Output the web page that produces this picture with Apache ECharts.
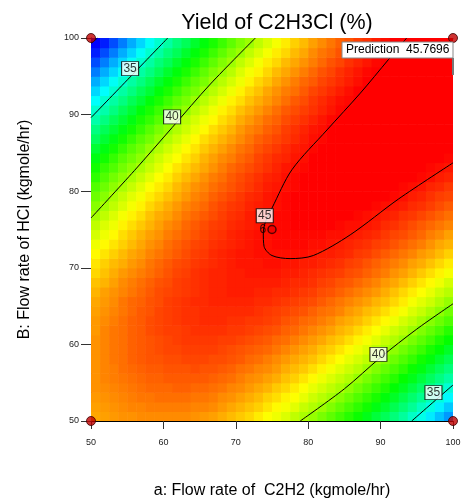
<!DOCTYPE html>
<html>
<head>
<meta charset="utf-8">
<title>Yield of C2H3Cl (%)</title>
<script src="https://cdn.jsdelivr.net/npm/echarts@6/dist/echarts.min.js"></script>
<style>
html, body { margin: 0; padding: 0; background: #fff; }
#container { width: 466px; height: 504px; }
</style>
</head>
<body>
<div id="container"></div>
<script>
// cell centres of the response grid (kgmole/hr)
var aCenters = [50.625, 51.875, 53.125, 54.375, 55.625, 56.875, 58.125, 59.375, 60.625, 61.875,
                63.125, 64.375, 65.625, 66.875, 68.125, 69.375, 70.625, 71.875, 73.125, 74.375,
                75.625, 76.875, 78.125, 79.375, 80.625, 81.875, 83.125, 84.375, 85.625, 86.875,
                88.125, 89.375, 90.625, 91.875, 93.125, 94.375, 95.625, 96.875, 98.125, 99.375];
var bCenters = [50.625, 51.875, 53.125, 54.375, 55.625, 56.875, 58.125, 59.375, 60.625, 61.875,
                63.125, 64.375, 65.625, 66.875, 68.125, 69.375, 70.625, 71.875, 73.125, 74.375,
                75.625, 76.875, 78.125, 79.375, 80.625, 81.875, 83.125, 84.375, 85.625, 86.875,
                88.125, 89.375, 90.625, 91.875, 93.125, 94.375, 95.625, 96.875, 98.125, 99.375];

var yieldRows = [
  [42.8,42.9,43.0,43.1,43.1,43.2,43.2,43.2,43.2,43.2,43.2,43.1,43.0,42.9,42.7,42.5,42.3,42.1,41.8,41.5,41.3,41.0,40.6,40.3,40.0,39.6,39.2,38.8,38.4,38.0,37.5,37.0,36.6,36.1,35.6,35.0,34.5,33.9,33.3,32.7],
  [42.9,43.0,43.1,43.2,43.3,43.3,43.4,43.4,43.4,43.4,43.4,43.3,43.3,43.2,43.0,42.8,42.6,42.4,42.2,41.9,41.6,41.4,41.1,40.7,40.4,40.1,39.7,39.3,38.9,38.5,38.1,37.6,37.2,36.7,36.2,35.7,35.1,34.6,34.0,33.4],
  [43.0,43.1,43.2,43.3,43.4,43.5,43.5,43.6,43.6,43.6,43.6,43.5,43.5,43.4,43.2,43.1,42.9,42.7,42.5,42.2,42.0,41.7,41.5,41.2,40.8,40.5,40.2,39.8,39.4,39.0,38.6,38.2,37.7,37.3,36.8,36.3,35.8,35.2,34.7,34.1],
  [43.1,43.2,43.3,43.4,43.5,43.6,43.7,43.7,43.7,43.8,43.8,43.7,43.7,43.6,43.5,43.3,43.2,43.0,42.8,42.6,42.3,42.1,41.8,41.5,41.2,40.9,40.6,40.3,39.9,39.5,39.1,38.7,38.3,37.8,37.4,36.9,36.4,35.9,35.4,34.8],
  [43.1,43.3,43.4,43.5,43.6,43.7,43.8,43.8,43.9,43.9,43.9,43.9,43.9,43.8,43.7,43.6,43.4,43.2,43.1,42.9,42.7,42.4,42.2,41.9,41.6,41.3,41.0,40.7,40.4,40.0,39.6,39.2,38.8,38.4,37.9,37.5,37.0,36.5,36.0,35.5],
  [43.1,43.3,43.4,43.6,43.7,43.8,43.9,43.9,44.0,44.0,44.0,44.1,44.0,44.0,43.9,43.8,43.6,43.5,43.3,43.2,43.0,42.7,42.5,42.3,42.0,41.7,41.4,41.1,40.8,40.5,40.1,39.7,39.3,38.9,38.5,38.0,37.6,37.1,36.6,36.1],
  [43.1,43.3,43.5,43.6,43.8,43.9,44.0,44.0,44.1,44.1,44.2,44.2,44.2,44.1,44.1,44.0,43.9,43.7,43.6,43.4,43.2,43.0,42.8,42.6,42.4,42.1,41.8,41.5,41.2,40.9,40.6,40.2,39.8,39.4,39.0,38.6,38.1,37.7,37.2,36.7],
  [43.1,43.3,43.5,43.6,43.8,43.9,44.0,44.1,44.2,44.2,44.3,44.3,44.3,44.3,44.2,44.1,44.0,43.9,43.8,43.7,43.5,43.3,43.1,42.9,42.7,42.4,42.2,41.9,41.6,41.3,41.0,40.6,40.3,39.9,39.5,39.1,38.7,38.2,37.8,37.3],
  [43.1,43.3,43.5,43.6,43.8,43.9,44.0,44.1,44.2,44.3,44.4,44.4,44.4,44.4,44.3,44.3,44.2,44.1,44.0,43.9,43.7,43.6,43.4,43.2,43.0,42.8,42.5,42.3,42.0,41.7,41.4,41.1,40.7,40.4,40.0,39.6,39.2,38.8,38.3,37.9],
  [43.0,43.3,43.5,43.6,43.8,43.9,44.1,44.2,44.3,44.3,44.4,44.5,44.5,44.5,44.5,44.4,44.4,44.3,44.2,44.1,44.0,43.8,43.7,43.5,43.3,43.1,42.9,42.6,42.4,42.1,41.8,41.5,41.2,40.8,40.5,40.1,39.7,39.3,38.9,38.4],
  [43.0,43.2,43.4,43.6,43.8,43.9,44.1,44.2,44.3,44.4,44.5,44.5,44.6,44.6,44.6,44.5,44.5,44.4,44.4,44.3,44.2,44.0,43.9,43.7,43.6,43.4,43.2,42.9,42.7,42.5,42.2,41.9,41.6,41.3,40.9,40.6,40.2,39.8,39.4,39.0],
  [42.9,43.1,43.3,43.5,43.7,43.9,44.0,44.2,44.3,44.4,44.5,44.5,44.6,44.6,44.6,44.6,44.6,44.6,44.5,44.4,44.3,44.2,44.1,44.0,43.8,43.6,43.5,43.3,43.0,42.8,42.5,42.3,42.0,41.7,41.4,41.0,40.7,40.3,39.9,39.5],
  [42.8,43.0,43.2,43.5,43.7,43.8,44.0,44.1,44.3,44.4,44.5,44.6,44.6,44.7,44.7,44.7,44.7,44.7,44.6,44.6,44.5,44.4,44.3,44.2,44.1,43.9,43.7,43.5,43.3,43.1,42.9,42.6,42.4,42.1,41.8,41.4,41.1,40.8,40.4,40.0],
  [42.6,42.9,43.1,43.3,43.5,43.7,43.9,44.1,44.2,44.3,44.4,44.5,44.6,44.7,44.7,44.8,44.8,44.8,44.7,44.7,44.6,44.6,44.5,44.4,44.3,44.1,44.0,43.8,43.6,43.4,43.2,43.0,42.7,42.4,42.1,41.8,41.5,41.2,40.8,40.5],
  [42.4,42.6,42.9,43.2,43.4,43.6,43.8,44.0,44.1,44.3,44.4,44.5,44.6,44.7,44.7,44.8,44.8,44.8,44.8,44.8,44.8,44.7,44.6,44.6,44.5,44.3,44.2,44.0,43.9,43.7,43.5,43.3,43.0,42.8,42.5,42.2,41.9,41.6,41.3,40.9],
  [42.1,42.4,42.7,43.0,43.2,43.4,43.6,43.8,44.0,44.2,44.3,44.5,44.6,44.7,44.7,44.8,44.8,44.9,44.9,44.9,44.9,44.8,44.8,44.7,44.6,44.5,44.4,44.3,44.1,44.0,43.8,43.6,43.4,43.1,42.9,42.6,42.3,42.0,41.7,41.4],
  [41.9,42.2,42.5,42.7,43.0,43.2,43.5,43.7,43.9,44.1,44.2,44.4,44.5,44.6,44.7,44.8,44.9,44.9,44.9,45.0,45.0,44.9,44.9,44.8,44.8,44.7,44.6,44.5,44.3,44.2,44.0,43.8,43.6,43.4,43.2,42.9,42.7,42.4,42.1,41.8],
  [41.6,41.9,42.2,42.5,42.8,43.0,43.3,43.5,43.7,43.9,44.1,44.3,44.4,44.6,44.7,44.8,44.9,44.9,45.0,45.0,45.0,45.0,45.0,45.0,44.9,44.8,44.8,44.7,44.6,44.4,44.3,44.1,43.9,43.7,43.5,43.3,43.0,42.8,42.5,42.2],
  [41.3,41.6,41.9,42.2,42.5,42.8,43.1,43.3,43.6,43.8,44.0,44.2,44.3,44.5,44.6,44.7,44.8,44.9,45.0,45.0,45.1,45.1,45.1,45.1,45.0,45.0,44.9,44.8,44.7,44.6,44.5,44.3,44.2,44.0,43.8,43.6,43.4,43.1,42.8,42.6],
  [40.9,41.3,41.6,42.0,42.3,42.6,42.9,43.1,43.4,43.6,43.8,44.0,44.2,44.4,44.5,44.7,44.8,44.9,45.0,45.0,45.1,45.1,45.1,45.1,45.1,45.1,45.0,45.0,44.9,44.8,44.7,44.6,44.4,44.2,44.1,43.9,43.7,43.4,43.2,42.9],
  [40.6,41.0,41.3,41.7,42.0,42.3,42.6,42.9,43.2,43.4,43.7,43.9,44.1,44.3,44.4,44.6,44.7,44.8,44.9,45.0,45.1,45.1,45.2,45.2,45.2,45.2,45.2,45.1,45.0,45.0,44.9,44.8,44.6,44.5,44.3,44.1,43.9,43.7,43.5,43.3],
  [40.2,40.6,41.0,41.4,41.7,42.0,42.4,42.7,42.9,43.2,43.5,43.7,43.9,44.1,44.3,44.5,44.6,44.8,44.9,45.0,45.1,45.1,45.2,45.2,45.3,45.3,45.2,45.2,45.2,45.1,45.0,44.9,44.8,44.7,44.5,44.4,44.2,44.0,43.8,43.6],
  [39.8,40.2,40.6,41.0,41.4,41.7,42.1,42.4,42.7,43.0,43.3,43.5,43.7,44.0,44.2,44.4,44.5,44.7,44.8,44.9,45.0,45.1,45.2,45.2,45.3,45.3,45.3,45.3,45.3,45.2,45.2,45.1,45.0,44.9,44.8,44.6,44.5,44.3,44.1,43.9],
  [39.4,39.8,40.3,40.7,41.1,41.4,41.8,42.1,42.4,42.7,43.0,43.3,43.5,43.8,44.0,44.2,44.4,44.6,44.7,44.9,45.0,45.1,45.2,45.2,45.3,45.3,45.4,45.4,45.4,45.3,45.3,45.2,45.2,45.1,45.0,44.8,44.7,44.5,44.3,44.2],
  [39.0,39.4,39.9,40.3,40.7,41.1,41.5,41.8,42.1,42.5,42.8,43.1,43.3,43.6,43.8,44.0,44.2,44.4,44.6,44.8,44.9,45.0,45.1,45.2,45.3,45.4,45.4,45.4,45.4,45.4,45.4,45.3,45.3,45.2,45.1,45.0,44.9,44.7,44.6,44.4],
  [38.5,39.0,39.5,39.9,40.3,40.7,41.1,41.5,41.8,42.2,42.5,42.8,43.1,43.4,43.6,43.9,44.1,44.3,44.5,44.7,44.8,45.0,45.1,45.2,45.3,45.3,45.4,45.4,45.5,45.5,45.5,45.4,45.4,45.3,45.3,45.2,45.1,45.0,44.8,44.7],
  [38.1,38.6,39.0,39.5,39.9,40.3,40.7,41.1,41.5,41.9,42.2,42.5,42.8,43.1,43.4,43.7,43.9,44.1,44.3,44.5,44.7,44.9,45.0,45.1,45.2,45.3,45.4,45.5,45.5,45.5,45.5,45.5,45.5,45.5,45.4,45.3,45.2,45.1,45.0,44.9],
  [37.6,38.1,38.6,39.1,39.5,39.9,40.4,40.8,41.2,41.5,41.9,42.2,42.6,42.9,43.2,43.4,43.7,43.9,44.2,44.4,44.6,44.7,44.9,45.0,45.2,45.3,45.4,45.4,45.5,45.5,45.6,45.6,45.6,45.6,45.5,45.5,45.4,45.3,45.2,45.1],
  [37.1,37.6,38.1,38.6,39.1,39.5,40.0,40.4,40.8,41.2,41.6,41.9,42.3,42.6,42.9,43.2,43.5,43.7,44.0,44.2,44.4,44.6,44.8,44.9,45.1,45.2,45.3,45.4,45.5,45.6,45.6,45.6,45.6,45.6,45.6,45.6,45.5,45.4,45.4,45.3],
  [36.5,37.1,37.6,38.1,38.6,39.1,39.5,40.0,40.4,40.8,41.2,41.6,42.0,42.3,42.6,42.9,43.2,43.5,43.8,44.0,44.2,44.4,44.6,44.8,45.0,45.1,45.3,45.4,45.5,45.5,45.6,45.6,45.7,45.7,45.7,45.7,45.6,45.6,45.5,45.4],
  [36.0,36.6,37.1,37.6,38.1,38.6,39.1,39.6,40.0,40.4,40.8,41.2,41.6,42.0,42.3,42.6,43.0,43.3,43.5,43.8,44.0,44.3,44.5,44.7,44.9,45.0,45.2,45.3,45.4,45.5,45.6,45.6,45.7,45.7,45.7,45.7,45.7,45.7,45.6,45.6],
  [35.4,36.0,36.6,37.1,37.6,38.2,38.6,39.1,39.6,40.0,40.5,40.9,41.3,41.6,42.0,42.3,42.7,43.0,43.3,43.6,43.8,44.1,44.3,44.5,44.7,44.9,45.1,45.2,45.3,45.4,45.5,45.6,45.7,45.7,45.8,45.8,45.8,45.8,45.7,45.7],
  [34.9,35.4,36.0,36.6,37.1,37.7,38.2,38.7,39.1,39.6,40.0,40.5,40.9,41.3,41.7,42.0,42.4,42.7,43.0,43.3,43.6,43.9,44.1,44.3,44.5,44.7,44.9,45.1,45.2,45.4,45.5,45.6,45.7,45.7,45.8,45.8,45.8,45.8,45.8,45.8],
  [34.2,34.9,35.5,36.0,36.6,37.1,37.7,38.2,38.7,39.2,39.6,40.1,40.5,40.9,41.3,41.7,42.0,42.4,42.7,43.0,43.3,43.6,43.9,44.1,44.4,44.6,44.8,45.0,45.1,45.3,45.4,45.5,45.6,45.7,45.8,45.8,45.9,45.9,45.9,45.9],
  [33.6,34.2,34.9,35.5,36.0,36.6,37.1,37.7,38.2,38.7,39.2,39.6,40.1,40.5,40.9,41.3,41.7,42.1,42.4,42.8,43.1,43.4,43.6,43.9,44.2,44.4,44.6,44.8,45.0,45.2,45.3,45.4,45.6,45.7,45.8,45.8,45.9,45.9,45.9,45.9],
  [33.0,33.6,34.3,34.9,35.5,36.0,36.6,37.2,37.7,38.2,38.7,39.2,39.6,40.1,40.5,40.9,41.3,41.7,42.1,42.4,42.8,43.1,43.4,43.7,43.9,44.2,44.4,44.6,44.8,45.0,45.2,45.4,45.5,45.6,45.7,45.8,45.9,45.9,46.0,46.0],
  [32.3,33.0,33.6,34.3,34.9,35.5,36.0,36.6,37.2,37.7,38.2,38.7,39.2,39.7,40.1,40.5,41.0,41.4,41.7,42.1,42.5,42.8,43.1,43.4,43.7,44.0,44.2,44.5,44.7,44.9,45.1,45.2,45.4,45.5,45.6,45.7,45.8,45.9,46.0,46.0],
  [31.6,32.3,33.0,33.6,34.3,34.9,35.5,36.1,36.6,37.2,37.7,38.2,38.7,39.2,39.7,40.1,40.6,41.0,41.4,41.8,42.1,42.5,42.8,43.1,43.4,43.7,44.0,44.2,44.5,44.7,44.9,45.1,45.3,45.4,45.6,45.7,45.8,45.9,45.9,46.0],
  [30.9,31.6,32.3,33.0,33.6,34.3,34.9,35.5,36.1,36.6,37.2,37.7,38.2,38.7,39.2,39.7,40.1,40.6,41.0,41.4,41.8,42.1,42.5,42.8,43.2,43.5,43.7,44.0,44.3,44.5,44.7,44.9,45.1,45.3,45.5,45.6,45.7,45.8,45.9,46.0],
  [30.2,30.9,31.6,32.3,33.0,33.6,34.3,34.9,35.5,36.1,36.6,37.2,37.7,38.2,38.7,39.2,39.7,40.1,40.6,41.0,41.4,41.8,42.2,42.5,42.9,43.2,43.5,43.8,44.0,44.3,44.5,44.8,45.0,45.2,45.3,45.5,45.6,45.7,45.9,45.9]
];

// contour lines [a, b]
var contour30 = [[50, 99.3], [50.9, 100]];
var contour35a = [[50, 89.6], [55.4, 94.9], [60.6, 100]];
var contour40a = [[50, 76.5], [56, 82.7], [61.2, 88.3], [66.5, 94.0], [72.7, 100]];
var contour45 = [[93.6, 100], [91.1, 97.2], [87.2, 92.8], [82.6, 88.0], [77.75, 82.8], [75.0, 77.8],
                 [74.1, 76.0], [73.8, 74.6], [73.9, 72.8], [75.0, 71.6], [77.5, 71.2], [80.7, 71.6],
                 [85.8, 74.3], [92.5, 79.0], [100, 83.7]];
var contour40b = [[78.9, 50], [85, 54.2], [90, 58.3], [95, 62.0], [100, 65.3]];
var contour35b = [[94.3, 50], [97.2, 52.4], [100, 54.7]];

// contour labels [a, b, level]
var contourLabels = [[55.4, 96.0, 35], [61.2, 89.7, 40], [74.0, 76.8, 45], [89.7, 58.7, 40], [97.3, 53.7, 35]];

var designPoints = [[50, 50], [50, 100], [100, 50], [100, 100]];
var centerPoint = [[75, 75]];
var centerRuns = '6';
var prediction = '45.7696';

var FONT = 'Liberation Sans, Arial, sans-serif';
var cellHalf = 0.625;

var heatData = [];
for (var j = 0; j < bCenters.length; j++) {
    for (var i = 0; i < aCenters.length; i++) {
        heatData.push([aCenters[i], bCenters[j], yieldRows[j][i]]);
    }
}

function renderCell(params, api) {
    var a = api.value(0), b = api.value(1);
    var p0 = api.coord([a - cellHalf, b + cellHalf]);
    var p1 = api.coord([a + cellHalf, b - cellHalf]);
    return {
        type: 'rect',
        shape: { x: p0[0], y: p0[1], width: p1[0] - p0[0] + 0.6, height: p1[1] - p0[1] + 0.6 },
        style: { fill: api.visual('color') }
    };
}

function contourSeries(data) {
    return {
        type: 'line',
        data: data,
        smooth: 0.3,
        showSymbol: false,
        symbol: 'none',
        silent: true,
        clip: true,
        z: 3,
        lineStyle: { color: '#000', width: 1 }
    };
}

var dom = document.getElementById('container');
var myChart = echarts.init(dom, null, { renderer: 'canvas' });

var option = {
    backgroundColor: '#fff',
    animation: false,
    title: {
        text: 'Yield of C2H3Cl (%)',
        left: 272,
        top: 7,
        textAlign: 'center',
        textStyle: { fontFamily: FONT, fontSize: 21.5, fontWeight: 'normal', color: '#000' }
    },
    grid: { left: 91, right: 13, top: 38, bottom: 82 },
    visualMap: {
        show: false,
        type: 'continuous',
        seriesIndex: 0,
        dimension: 2,
        min: 30.5,
        max: 45.2,
        inRange: { color: ['#0000ff', '#00ffff', '#00ff00', '#ffff00', '#ff0000'] }
    },
    xAxis: [
        {
            type: 'value',
            min: 50, max: 100, interval: 10,
            name: 'a: Flow rate of  C2H2 (kgmole/hr)',
            nameLocation: 'middle',
            nameGap: 62,
            nameTextStyle: { fontFamily: FONT, fontSize: 16, color: '#000' },
            axisLine: { lineStyle: { color: '#000', width: 1 } },
            axisTick: { length: 8, lineStyle: { color: '#333' } },
            axisLabel: { margin: 17, fontFamily: FONT, fontSize: 9, color: '#222' },
            splitLine: { show: false }
        },
        {
            type: 'value',
            position: 'top',
            min: 50, max: 100,
            axisLine: { lineStyle: { color: '#555', width: 1 } },
            axisTick: { show: false },
            axisLabel: { show: false },
            splitLine: { show: false }
        }
    ],
    yAxis: {
        type: 'value',
        min: 50, max: 100, interval: 10,
        name: 'B: Flow rate of HCl (kgmole/hr)',
        nameLocation: 'middle',
        nameGap: 58,
        nameTextStyle: { fontFamily: FONT, fontSize: 16, color: '#000' },
        axisLine: { lineStyle: { color: '#000', width: 1 } },
        axisTick: { length: 10, lineStyle: { color: '#333' } },
        axisLabel: { margin: 12, fontFamily: FONT, fontSize: 9, color: '#222' },
        splitLine: { show: false }
    },
    series: [
        {
            type: 'custom',
            renderItem: renderCell,
            data: heatData,
            encode: { x: 0, y: 1 },
            clip: true,
            silent: true,
            z: 1
        },
        contourSeries(contour30),
        contourSeries(contour35a),
        contourSeries(contour40a),
        contourSeries(contour45),
        contourSeries(contour40b),
        contourSeries(contour35b),
        {
            type: 'scatter',
            data: contourLabels,
            symbol: 'rect',
            symbolSize: [17, 14],
            z: 5,
            itemStyle: { color: '#fff', borderColor: '#000', borderWidth: 1 },
            label: {
                show: true,
                position: 'inside',
                formatter: function (p) { return p.value[2]; },
                fontFamily: FONT,
                fontSize: 12,
                color: '#000'
            }
        },
        {
            type: 'scatter',
            data: designPoints,
            symbol: 'circle',
            symbolSize: 9,
            clip: false,
            z: 6,
            itemStyle: { color: '#c00000', borderColor: '#3a0000', borderWidth: 1 }
        },
        {
            type: 'scatter',
            data: centerPoint,
            symbol: 'circle',
            symbolSize: 8,
            z: 6,
            itemStyle: { color: '#ee0000', borderColor: '#2a0000', borderWidth: 1.5 },
            label: {
                show: true,
                position: 'left',
                distance: 1,
                formatter: centerRuns,
                fontFamily: FONT,
                fontSize: 12,
                color: '#000'
            }
        }
    ],
    graphic: [
        {
            type: 'rect',
            shape: { x: 342, y: 42, width: 111, height: 16 },
            style: { fill: '#fff', stroke: '#888', lineWidth: 1 },
            z: 10
        },
        {
            type: 'text',
            x: 346,
            y: 50,
            style: {
                text: 'Prediction  ' + prediction,
                fontFamily: FONT,
                fontSize: 12,
                fill: '#000',
                verticalAlign: 'middle'
            },
            z: 11
        },
        {
            type: 'line',
            shape: { x1: 453, y1: 58, x2: 453, y2: 75 },
            style: { stroke: '#777', lineWidth: 2 },
            z: 10
        }
    ]
};

myChart.setOption(option);
window.addEventListener('resize', myChart.resize);
</script>
</body>
</html>
